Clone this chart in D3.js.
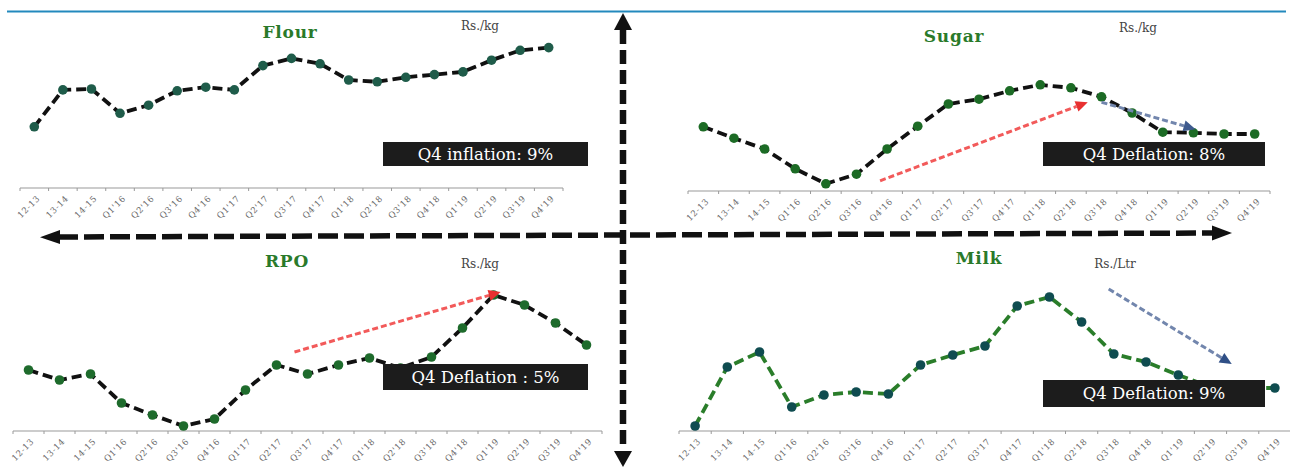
<!DOCTYPE html>
<html>
<head>
<meta charset="utf-8">
<script src="https://cdn.jsdelivr.net/npm/d3@7"></script>
<style>
  html, body { margin: 0; padding: 0; background: #fff; }
  svg { display: block; }
</style>
</head>
<body>
<svg id="chart" width="1290" height="468"></svg>
<script>
// Periods on every panel's x axis
const categories = ["12-13","13-14","14-15","Q1'16","Q2'16","Q3'16","Q4'16","Q1'17","Q2'17","Q3'17","Q4'17","Q1'18","Q2'18","Q3'18","Q4'18","Q1'19","Q2'19","Q3'19","Q4'19"];

// Average retail prices per period
const flourPrices = [36.8, 40.9, 41.0, 38.3, 39.2, 40.8, 41.2, 40.9, 43.6, 44.4, 43.8, 42.0, 41.8, 42.3, 42.6, 42.9, 44.2, 45.3, 45.6];
const sugarPrices = [60.7, 58.8, 57.0, 53.7, 51.2, 52.8, 57.0, 60.8, 64.5, 65.3, 66.7, 67.7, 67.2, 65.7, 63.0, 59.8, 59.7, 59.5, 59.5];
const rpoPrices   = [164.4, 160.4, 162.8, 151.2, 146.4, 142.0, 144.8, 156.4, 166.4, 162.8, 166.4, 169.2, 165.2, 169.6, 181.2, 194.4, 190.4, 183.2, 174.4];
const milkPrices  = [71.0, 82.8, 85.8, 74.8, 77.2, 77.8, 77.4, 83.2, 85.2, 87.0, 95.0, 96.8, 91.8, 85.4, 83.8, 81.2, 78.8, 78.6, 78.6];

const panelTitles = ["Flour", "Sugar", "RPO", "Milk"];
const unitLabels  = ["Rs./kg", "Rs./kg", "Rs./kg", "Rs./Ltr"];
const q4Notes     = ["Q4 inflation: 9%", "Q4 Deflation: 8%", "Q4 Deflation : 5%", "Q4 Deflation: 9%"];

// Trend arrows: [period, offset inside the period's band, price]
const sugarRise = [["Q4'16", -0.23, 51.7], ["Q2'18", 0.55, 64.8]];
const sugarFall = [["Q3'18", 0.0, 64.8], ["Q2'19", 0.07, 60.3]];
const rpoRise   = [["Q2'17", 0.58, 171.6], ["Q1'19", 0.23, 195.6]];
const milkFall  = [["Q3'18", -0.16, 98.4], ["Q3'19", -0.34, 83.4]];

const svg = d3.select("#chart");
const serif = "'DejaVu Serif', 'Liberation Serif', serif";

// Panel frames
const panels = [
  { values: flourPrices, domain: [30, 46],   x0: 20,  x1: 563,  axisY: 188, top: 44,
    titleX: 290, titleY: 38, unitX: 480, unitY: 30, box: [383, 142, 205, 24],
    line: "#111", lineDash: "10,5", dot: "#1f5c4a", arrows: [] },
  { values: sugarPrices, domain: [50, 70],   x0: 688, x1: 1270, axisY: 191, top: 71,
    titleX: 954, titleY: 42, unitX: 1138, unitY: 32, box: [1043, 142, 222, 24],
    line: "#111", lineDash: "10,5", dot: "#1c6b25",
    arrows: [{ pts: sugarRise, color: "#f25a5a", head: "#e83030" }, { pts: sugarFall, color: "#7286ad", head: "#3e5a8e" }] },
  { values: rpoPrices,   domain: [140, 200], x0: 13,  x1: 602,  axisY: 431, top: 281,
    titleX: 287, titleY: 267, unitX: 480, unitY: 268, box: [383, 364, 205, 26],
    line: "#111", lineDash: "10,5", dot: "#1e6b2c",
    arrows: [{ pts: rpoRise, color: "#f25a5a", head: "#e83030" }] },
  { values: milkPrices,  domain: [70, 100],  x0: 679, x1: 1291, axisY: 431, top: 281,
    titleX: 979, titleY: 264, unitX: 1115, unitY: 268, box: [1043, 380, 222, 27],
    line: "#2a7d2a", lineDash: "10,5", dot: "#0f4c50",
    arrows: [{ pts: milkFall, color: "#7286ad", head: "#2f4f86" }] }
];

// Top rule
svg.append("line").attr("x1", 7).attr("x2", 1286).attr("y1", 11.5).attr("y2", 11.5)
  .attr("stroke", "#2389bd").attr("stroke-width", 2);

panels.forEach((p, i) => {
  const g = svg.append("g");
  const x = d3.scaleBand().domain(categories).range([p.x0, p.x1]).padding(0);
  const y = d3.scaleLinear().domain(p.domain).range([p.axisY, p.top]);
  const cx = c => x(c) + x.bandwidth() / 2;

  // Category axis with ticks on band boundaries
  const ax = g.append("g");
  ax.append("line").attr("x1", p.x0).attr("x2", p.x1).attr("y1", p.axisY).attr("y2", p.axisY)
    .attr("stroke", "#9a9a9a").attr("stroke-width", 1.2);
  const edges = categories.map(c => x(c)).concat([p.x1]);
  ax.selectAll("line.tick").data(edges).join("line").attr("class", "tick")
    .attr("x1", d => d).attr("x2", d => d).attr("y1", p.axisY).attr("y2", p.axisY + 3)
    .attr("stroke", "#9a9a9a").attr("stroke-width", 1);
  ax.selectAll("text").data(categories).join("text")
    .attr("transform", d => `translate(${cx(d) + 4},${p.axisY + 9}) rotate(-45)`)
    .attr("text-anchor", "end").attr("dy", "0.35em")
    .attr("font-family", serif).attr("font-size", 8.5).attr("letter-spacing", 0.6)
    .attr("fill", "#666").text(d => d);

  // Price line and markers
  const pts = categories.map((c, k) => [cx(c), y(p.values[k])]);
  g.append("path").attr("d", d3.line()(pts)).attr("fill", "none")
    .attr("stroke", p.line).attr("stroke-width", 3.8).attr("stroke-dasharray", p.lineDash);
  g.selectAll("circle").data(pts).join("circle")
    .attr("cx", d => d[0]).attr("cy", d => d[1]).attr("r", 4.8).attr("fill", p.dot);

  // Trend arrows
  p.arrows.forEach(a => {
    const [s, e] = a.pts.map(([c, f, v]) => [cx(c) + f * x.bandwidth(), y(v)]);
    const ang = Math.atan2(e[1] - s[1], e[0] - s[0]);
    const L = 12, W = 5.5;
    const bx = e[0] - L * Math.cos(ang), by = e[1] - L * Math.sin(ang);
    g.append("line").attr("x1", s[0]).attr("y1", s[1]).attr("x2", bx).attr("y2", by)
      .attr("stroke", a.color).attr("stroke-width", 3).attr("stroke-dasharray", "6,3");
    g.append("path")
      .attr("d", `M${e[0]},${e[1]}L${bx - W * Math.sin(ang)},${by + W * Math.cos(ang)}L${bx + W * Math.sin(ang)},${by - W * Math.cos(ang)}Z`)
      .attr("fill", a.head);
  });

  // Titles
  g.append("text").attr("x", p.titleX).attr("y", p.titleY).attr("text-anchor", "middle")
    .attr("font-family", serif).attr("font-weight", "bold").attr("font-size", 17)
    .attr("letter-spacing", 0.8).attr("fill", "#2a7a2a").text(panelTitles[i]);
  g.append("text").attr("x", p.unitX).attr("y", p.unitY).attr("text-anchor", "middle")
    .attr("font-family", serif).attr("font-size", 12).attr("fill", "#444").text(unitLabels[i]);

  // Q4 note box
  const [bx0, by0, bw, bh] = p.box;
  g.append("rect").attr("x", bx0).attr("y", by0).attr("width", bw).attr("height", bh).attr("fill", "#1c1c1c");
  g.append("text").attr("x", bx0 + bw / 2).attr("y", by0 + bh / 2).attr("dy", "0.36em")
    .attr("text-anchor", "middle").attr("font-family", serif).attr("font-size", 16.5)
    .attr("fill", "#fff").text(q4Notes[i]);
});

// Quadrant dividers
const div = svg.append("g");
div.append("line").attr("x1", 58).attr("y1", 237).attr("x2", 1214).attr("y2", 233)
  .attr("stroke", "#111").attr("stroke-width", 5.5).attr("stroke-dasharray", "20,6");
div.append("path").attr("d", "M40,237.2L60,230L60,244Z").attr("fill", "#111");
div.append("path").attr("d", "M1232,233L1212,225.5L1212,240.5Z").attr("fill", "#111");
div.append("line").attr("x1", 623).attr("y1", 30).attr("x2", 623).attr("y2", 450)
  .attr("stroke", "#111").attr("stroke-width", 6.5).attr("stroke-dasharray", "14,6");
div.append("path").attr("d", "M623,13L614,30L632,30Z").attr("fill", "#111");
div.append("path").attr("d", "M623,467L614,451L632,451Z").attr("fill", "#111");
</script>
</body>
</html>
